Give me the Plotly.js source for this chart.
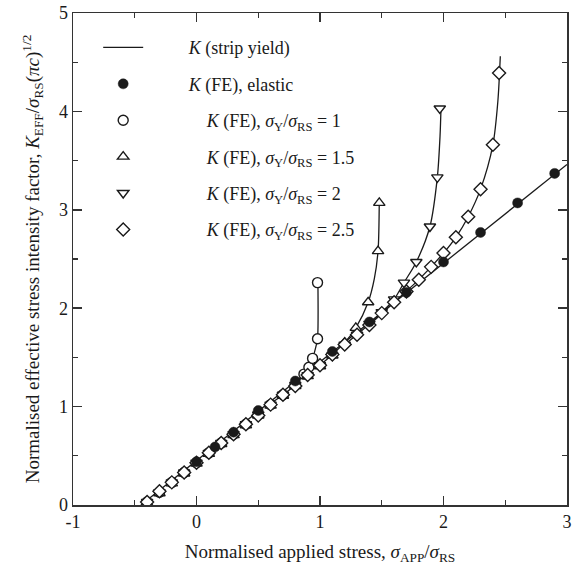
<!DOCTYPE html>
<html>
<head>
<meta charset="utf-8">
<script src="https://cdn.plot.ly/plotly-3.0.1.min.js"></script>
<style>html,body{margin:0;padding:0;background:#fff;}#chart{width:578px;height:583px;}</style>
</head>
<body>
<div id="chart"></div>
<script>
// Strip-yield solution (straight elastic part)
var syLineX = [-0.45, 3.0];
var syLineY = [0.0, 3.46];
// Strip-yield curves departing from the line
var sy1X = [0.6, 0.7, 0.8, 0.87, 0.91, 0.94, 0.965, 0.98, 0.983];
var sy1Y = [1.03, 1.12, 1.22, 1.33, 1.40, 1.49, 1.60, 1.69, 2.27];
var sy15X = [1.0, 1.1, 1.2, 1.29, 1.39, 1.44, 1.47, 1.48];
var sy15Y = [1.42, 1.53, 1.65, 1.80, 2.06, 2.30, 2.58, 3.10];
var sy2X = [1.2, 1.4, 1.5, 1.6, 1.68, 1.78, 1.89, 1.95, 1.972, 1.98];
var sy2Y = [1.63, 1.84, 1.96, 2.09, 2.26, 2.47, 2.83, 3.33, 3.75, 4.05];
var sy25X = [1.4, 1.6, 1.8, 2.0, 2.1, 2.2, 2.3, 2.4, 2.44, 2.46];
var sy25Y = [1.83, 2.06, 2.29, 2.56, 2.72, 2.93, 3.21, 3.66, 4.10, 4.56];

// FE elastic
var elX = [0, 0.15, 0.3, 0.5, 0.8, 1.1, 1.4, 1.7, 2.0, 2.3, 2.6, 2.9];
var elY = [0.44, 0.59, 0.74, 0.96, 1.26, 1.56, 1.86, 2.16, 2.47, 2.77, 3.07, 3.37];

// FE, sigmaY/sigmaRS = 1
var fe1X = [-0.4, -0.3, -0.2, -0.1, 0.0, 0.1, 0.2, 0.3, 0.4, 0.5, 0.6, 0.7, 0.8, 0.87, 0.91, 0.94, 0.98, 0.98];
var fe1Y = [0.03, 0.13, 0.23, 0.33, 0.43, 0.53, 0.63, 0.72, 0.82, 0.92, 1.02, 1.12, 1.22, 1.33, 1.40, 1.49, 1.69, 2.26];
// FE, sigmaY/sigmaRS = 1.5
var fe15X = [-0.4, -0.3, -0.2, -0.1, 0.0, 0.1, 0.2, 0.3, 0.4, 0.5, 0.6, 0.7, 0.8, 0.9, 1.0, 1.1, 1.2, 1.29, 1.39, 1.47, 1.48];
var fe15Y = [0.02, 0.12, 0.22, 0.32, 0.42, 0.52, 0.62, 0.71, 0.81, 0.91, 1.01, 1.11, 1.21, 1.31, 1.41, 1.52, 1.65, 1.80, 2.06, 2.58, 3.07];
// FE, sigmaY/sigmaRS = 2
var fe2X = [-0.4, -0.3, -0.2, -0.1, 0.0, 0.1, 0.2, 0.3, 0.4, 0.5, 0.6, 0.7, 0.8, 0.9, 1.0, 1.1, 1.2, 1.3, 1.4, 1.5, 1.6, 1.68, 1.78, 1.89, 1.95, 1.97];
var fe2Y = [0.03, 0.13, 0.23, 0.33, 0.43, 0.53, 0.63, 0.72, 0.82, 0.92, 1.02, 1.12, 1.22, 1.32, 1.42, 1.52, 1.63, 1.73, 1.84, 1.96, 2.09, 2.26, 2.47, 2.83, 3.33, 4.03];
// FE, sigmaY/sigmaRS = 2.5
var fe25X = [-0.4, -0.3, -0.2, -0.1, 0.0, 0.1, 0.2, 0.3, 0.4, 0.5, 0.6, 0.7, 0.8, 0.9, 1.0, 1.1, 1.2, 1.3, 1.4, 1.5, 1.6, 1.7, 1.8, 1.9, 2.0, 2.1, 2.2, 2.3, 2.4, 2.45];
var fe25Y = [0.03, 0.14, 0.23, 0.33, 0.43, 0.53, 0.63, 0.72, 0.82, 0.91, 1.02, 1.12, 1.21, 1.32, 1.42, 1.53, 1.63, 1.73, 1.83, 1.95, 2.06, 2.17, 2.29, 2.42, 2.56, 2.72, 2.93, 3.21, 3.66, 4.39];

var xTicks = [-1, 0, 1, 2, 3];
var yTicks = [0, 1, 2, 3, 4, 5];

var FONT = 'Liberation Serif, Times New Roman, serif';
var INK = '#1a1a1a';
var pad = '\u00a0\u00a0\u00a0\u00a0\u00a0\u00a0\u00a0\u00a0\u00a0';
var pad2 = '\u00a0\u00a0\u00a0\u00a0';
var lineStyle = {color: INK, width: 1.3};
function curve(x, y) {
  return {x: x, y: y, mode: 'lines', line: {color: INK, width: 1.3, shape: 'spline', smoothing: 0.8}, showlegend: false, hoverinfo: 'skip'};
}
function openSeries(x, y, sym, size, name, grp) {
  return {x: x, y: y, mode: 'markers', name: name, legendgroup: grp,
    marker: {symbol: sym, size: size, color: '#ffffff', line: {color: INK, width: 1.4}}};
}
var sigLab = '<i>K</i> (FE), <i>σ</i><sub>Y</sub>/<i>σ</i><sub>RS</sub> = ';

var data = [
  {x: syLineX, y: syLineY, mode: 'lines', line: lineStyle, name: pad + '<i>K</i> (strip yield)', legendgroup: 'a'},
  curve(sy1X, sy1Y), curve(sy15X, sy15Y), curve(sy2X, sy2Y), curve(sy25X, sy25Y),
  openSeries(fe1X, fe1Y, 'circle', 10, pad + pad2 + sigLab + '1', 'c'),
  openSeries(fe15X, fe15Y, 'triangle-up', 10, pad + pad2 + sigLab + '1.5', 'd'),
  openSeries(fe2X, fe2Y, 'triangle-down', 10, pad + pad2 + sigLab + '2', 'e'),
  openSeries(fe25X, fe25Y, 'diamond', 10, pad + pad2 + sigLab + '2.5', 'f'),
  {x: elX, y: elY, mode: 'markers', name: pad + '<i>K</i> (FE), elastic', legendgroup: 'b',
    marker: {symbol: 'circle', size: 10, color: INK, line: {color: INK, width: 0.5}}}
];

data[0].legendrank = 1;
data[9].legendrank = 2;
data[5].legendrank = 3;
data[6].legendrank = 4;
data[7].legendrank = 5;
data[8].legendrank = 6;

var axisCommon = {
  showline: true, mirror: 'ticks', linecolor: '#333', linewidth: 1.5,
  ticks: 'inside', ticklen: 9, tickwidth: 1.5, tickcolor: '#333',
  showgrid: false, zeroline: false,
  tickfont: {family: FONT, size: 18, color: INK},
  minor: {ticks: 'inside', ticklen: 5, tickwidth: 1.3, tickcolor: '#333', dtick: 0.5, showgrid: false}
};

var layout = {
  width: 578, height: 583,
  margin: {l: 73, r: 11, t: 13, b: 78},
  paper_bgcolor: '#fff', plot_bgcolor: '#fff',
  font: {family: FONT, size: 18, color: INK},
  showlegend: true,
  legend: {x: 0.051, y: 0.967, xanchor: 'left', yanchor: 'top', bgcolor: 'rgba(0,0,0,0)',
    font: {family: FONT, size: 18, color: INK}, traceorder: 'grouped', tracegroupgap: 10, itemwidth: 40},
  xaxis: Object.assign({}, axisCommon, {
    range: [-1, 3], tickvals: xTicks, ticktext: xTicks.map(String),
    title: {text: 'Normalised applied stress, <i>σ</i><sub>APP</sub>/<i>σ</i><sub>RS</sub>', font: {family: FONT, size: 19, color: INK}, standoff: 13}
  }),
  yaxis: Object.assign({}, axisCommon, {
    range: [0, 5], tickvals: yTicks, ticktext: yTicks.map(String),
    title: {text: 'Normalised effective stress intensity factor, <i>K</i><sub>EFF</sub>/<i>σ</i><sub>RS</sub>(<i>πc</i>)<sup>1/2</sup>', font: {family: FONT, size: 19, color: INK}, standoff: 14}
  })
};

Plotly.newPlot('chart', data, layout, {displayModeBar: false, staticPlot: true});
</script>
</body>
</html>
